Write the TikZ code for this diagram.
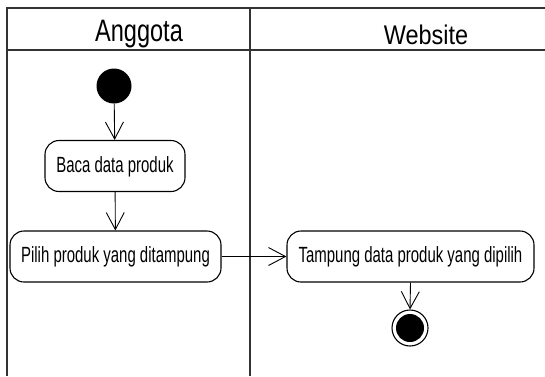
\documentclass[tikz,border=0pt]{standalone}
\usepackage{fontspec}
\setmainfont{Liberation Sans}
\newfontfamily\boxfont[FakeStretch=0.68]{Liberation Sans}
\newfontfamily\leftheadfont[FakeStretch=0.76]{Liberation Sans}
\newfontfamily\rightheadfont[FakeStretch=0.87]{Liberation Sans}
\usetikzlibrary{arrows.meta}
\begin{document}
\begin{tikzpicture}[x=1pt,y=-1pt,
  frameline/.style={line width=1.3pt, draw=black!80},
  activity/.style={draw, line width=1.1pt, rounded corners=14pt, minimum height=51pt,
    inner xsep=4pt, font=\boxfont\fontsize{22}{24}\selectfont, text height=16pt, text depth=4pt},
  flow/.style={line width=0.9pt, -{Straight Barb[length=17pt,width=18pt,line width=0.9pt]}},
  startnode/.style={circle, fill=black, minimum size=35pt, inner sep=0pt},
  endring/.style={circle, draw, line width=1.1pt, fill=white, minimum size=36pt, inner sep=0pt}
]
\useasboundingbox (0,0) rectangle (545,376);
\fill[white] (0,0) rectangle (545,376);

% swimlane frame
\draw[frameline] (7,376) -- (7,8) -- (545,8);
\draw[frameline] (7,50) -- (545,50);
\draw[frameline] (250,8) -- (250,376);

% lane headers
\node[anchor=base, font=\leftheadfont\fontsize{31}{33}\selectfont] (hA) at (139,41) {Anggota};
\node[anchor=base, font=\rightheadfont\fontsize{27}{29}\selectfont] (hW) at (426,44) {Website};

% nodes
\node[startnode] (start) at (114,86) {};
\node[activity, minimum width=140pt] (baca) at (115,166) {Baca data produk};
\node[activity, minimum width=211pt] (pilih) at (115.5,256.5) {Pilih produk yang ditampung};
\node[activity, minimum width=247pt] (tampung) at (410.5,256.5) {Tampung data produk yang dipilih};
\node[endring] (end) at (410,328) {};
\node[circle, fill=black, minimum size=28pt, inner sep=0pt] (endcore) at (end) {};

% control flow
\draw[flow] (start) -- (baca);
\draw[flow] (baca) -- (pilih);
\draw[flow] (pilih) -- (tampung);
\draw[flow] (tampung.south) -- (end.north);
\end{tikzpicture}
\end{document}
